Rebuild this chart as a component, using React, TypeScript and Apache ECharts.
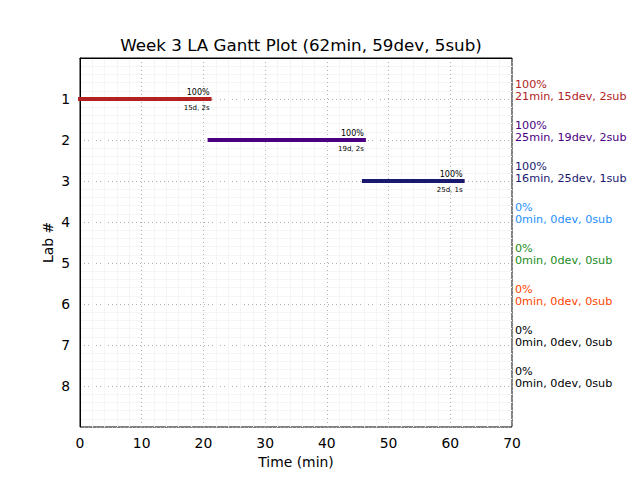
import React, { useEffect, useRef } from "react";
import * as echarts from "echarts";

const labs = [1, 2, 3, 4, 5, 6, 7, 8];
const starts = [0, 21, 46, 0, 0, 0, 0, 0];
const minutes = [21, 25, 16, 0, 0, 0, 0, 0];
const devs = [15, 19, 25, 0, 0, 0, 0, 0];
const subs = [2, 2, 1, 0, 0, 0, 0, 0];
const percents = [100, 100, 100, 0, 0, 0, 0, 0];
const colors = ["#b22222", "#4b0082", "#191970", "#1e90ff", "#228b22", "#ff4500", "#000000", "#000000"];
const xTicks = [0, 10, 20, 30, 40, 50, 60, 70];
const title = "Week 3 LA Gantt Plot (62min, 59dev, 5sub)";

const FONT = "DejaVu Sans";

export default function App() {
  const ref = useRef<HTMLDivElement>(null);
  useEffect(() => {
    if (!ref.current) return;
    const chart = echarts.init(ref.current, undefined, { renderer: "svg" });
    const series: any[] = [];
    labs.forEach((lab, i) => {
      if (minutes[i] > 0) {
        series.push({
          type: "line",
          data: [
            [starts[i], lab],
            [starts[i] + minutes[i], lab],
          ],
          symbol: "none",
          silent: true,
          lineStyle: { color: colors[i], width: 4, cap: "square", opacity: 1 },
          z: 3,
        });
      }
    });
    const active = labs.map((lab, i) => i).filter((i) => minutes[i] > 0);
    const labelSeries = (data: any[], label: any) => ({
      type: "scatter",
      symbolSize: 0,
      silent: true,
      clip: false,
      itemStyle: { opacity: 1 },
      data,
      label: { show: true, opacity: 1, fontFamily: FONT, ...label },
      z: 4,
    });
    series.push(
      labelSeries(
        active.map((i) => ({ value: [starts[i] + minutes[i], labs[i]], pct: percents[i] })),
        {
          position: "left",
          distance: 0,
          offset: [0, -7],
          fontSize: 8,
          color: "#000",
          formatter: (p: any) => `${p.data.pct}%`,
        }
      )
    );
    series.push(
      labelSeries(
        active.map((i) => ({ value: [starts[i] + minutes[i], labs[i]], d: devs[i], s: subs[i] })),
        {
          position: "left",
          distance: 0,
          offset: [0, 9],
          fontSize: 7,
          color: "#000",
          formatter: (p: any) => `${p.data.d}d, ${p.data.s}s`,
        }
      )
    );
    series.push(
      labelSeries(
        labs.map((lab, i) => ({
          value: [70, lab],
          txt: `${percents[i]}%\n${minutes[i]}min, ${devs[i]}dev, ${subs[i]}sub`,
          label: { color: colors[i] },
        })),
        {
          position: "right",
          distance: 3,
          offset: [0, -9],
          fontSize: 11.2,
          lineHeight: 12,
          align: "left",
          formatter: (p: any) => p.data.txt,
        }
      )
    );

    const grid = { color: "#b0b0b0", type: [1, 3], width: 1 };
    const minor = { color: "#f5f5f5", width: 1 };

    chart.setOption({
      animation: false,
      backgroundColor: "#ffffff",
      title: {
        text: title,
        left: 296,
        textAlign: "center",
        top: 31,
        textStyle: { fontFamily: FONT, fontSize: 16.7, fontWeight: "normal", color: "#000" },
      },
      grid: {
        left: 80,
        right: 128,
        top: 58,
        bottom: 53,
        show: true,
        borderColor: "#000",
        borderWidth: 1,
        backgroundColor: "transparent",
      },
      xAxis: {
        type: "value",
        min: 0,
        max: 70,
        interval: 10,
        name: "Time (min)",
        nameLocation: "middle",
        nameGap: 28,
        nameTextStyle: { fontFamily: FONT, fontSize: 13.9, color: "#000" },
        axisLine: { show: true, lineStyle: { color: "#000" } },
        axisTick: { show: false },
        axisLabel: {
          fontFamily: FONT,
          fontSize: 13.9,
          color: "#000",
          margin: 9,
          formatter: (v: number) => (xTicks.includes(v) ? String(v) : ""),
        },
        splitLine: { show: true, lineStyle: grid },
        minorTick: { show: false, splitNumber: 5 },
        minorSplitLine: { show: true, lineStyle: minor },
      },
      yAxis: {
        type: "value",
        min: 0,
        max: 9,
        interval: 1,
        inverse: true,
        name: "Lab #",
        nameLocation: "middle",
        nameGap: 32,
        nameMoveOverlap: false,
        nameRotate: 90,
        nameTextStyle: { fontFamily: FONT, fontSize: 13.9, color: "#000", verticalAlign: "middle" },
        axisLine: { show: true, lineStyle: { color: "#000" } },
        axisTick: { show: false },
        axisLabel: {
          fontFamily: FONT,
          fontSize: 13.9,
          color: "#000",
          margin: 10,
          formatter: (v: number) => (labs.includes(v) ? String(v) : ""),
        },
        splitLine: { show: true, lineStyle: grid },
        minorTick: { show: false, splitNumber: 5 },
        minorSplitLine: { show: true, lineStyle: minor },
      },
      series,
    });
    return () => chart.dispose();
  }, []);
  return <div ref={ref} style={{ width: 640, height: 480, position: "absolute", left: 0, top: 0 }} />;
}
